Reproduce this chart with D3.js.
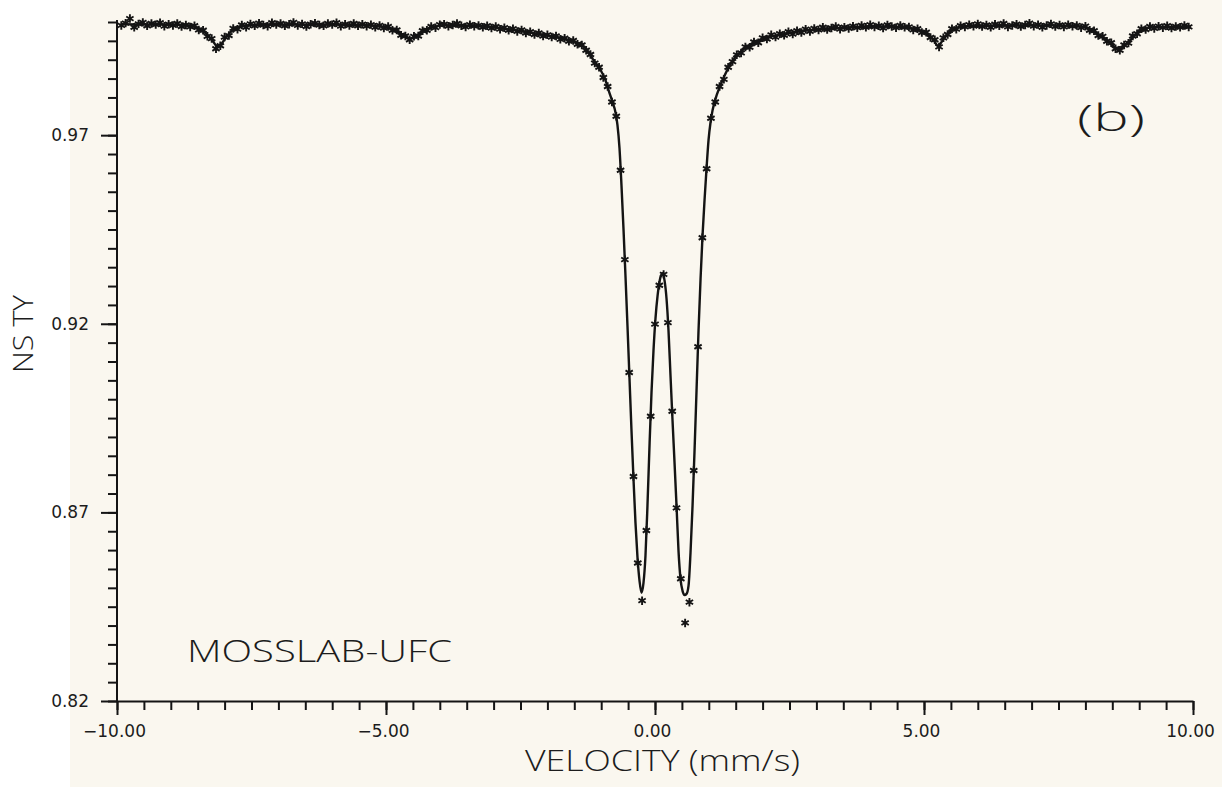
<!DOCTYPE html>
<html>
<head>
<meta charset="utf-8">
<script src="https://cdn.jsdelivr.net/npm/d3@7"></script>
<style>
  html, body { margin: 0; padding: 0; background: #ffffff; }
  svg { display: block; }
  text { font-family: "Open Sans", "DejaVu Sans", sans-serif; fill: #1c1c1c; }
</style>
</head>
<body>
<svg id="chart" width="1222" height="787"></svg>
<script>
// Mössbauer spectrum: relative transmission vs source velocity

// channel velocity calibration (mm/s)
const V_START = -9.92;
const V_STEP = 0.08;

// measured relative transmission, one value per channel
const transmission = [
  0.9991, 0.9997, 1.0009, 0.9986, 0.9995, 0.9999, 0.9990, 0.9996, 0.9993, 0.9998,
  0.9989, 0.9994, 0.9991, 0.9996, 0.9988, 0.9992, 0.9987, 0.9990, 0.9979, 0.9978,
  0.9962, 0.9956, 0.9929, 0.9937, 0.9960, 0.9964, 0.9983, 0.9981, 0.9992, 0.9986,
  0.9995, 0.9990, 0.9997, 0.9992, 0.9989, 0.9998, 0.9993, 0.9996, 0.9990, 0.9994,
  0.9999, 0.9991, 0.9995, 0.9988, 0.9994, 0.9997, 0.9992, 0.9990, 0.9996, 0.9993,
  0.9998, 0.9989, 0.9994, 0.9991, 0.9996, 0.9990, 0.9994, 0.9989, 0.9993, 0.9986,
  0.9991, 0.9984, 0.9988, 0.9978, 0.9979, 0.9965, 0.9963, 0.9953, 0.9962, 0.9963,
  0.9977, 0.9978, 0.9988, 0.9985, 0.9993, 0.9994, 0.9989, 0.9992, 0.9996, 0.9990,
  0.9987, 0.9993, 0.9989, 0.9991, 0.9986, 0.9990, 0.9984, 0.9988, 0.9981, 0.9985,
  0.9978, 0.9982, 0.9975, 0.9979, 0.9971, 0.9974, 0.9967, 0.9971, 0.9963, 0.9966,
  0.9960, 0.9963, 0.9954, 0.9957, 0.9949, 0.9951, 0.9941, 0.9939, 0.9925, 0.9914,
  0.9891, 0.9880, 0.9853, 0.9829, 0.9788, 0.9750, 0.9607, 0.9370, 0.9071, 0.8795,
  0.8566, 0.8466, 0.8652, 0.8955, 0.9199, 0.9302, 0.9331, 0.9203, 0.8968, 0.8712,
  0.8524, 0.8407, 0.8462, 0.8811, 0.9139, 0.9428, 0.9611, 0.9745, 0.9788, 0.9829,
  0.9848, 0.9880, 0.9895, 0.9913, 0.9918, 0.9934, 0.9933, 0.9947, 0.9945, 0.9958,
  0.9955, 0.9966, 0.9960, 0.9969, 0.9965, 0.9974, 0.9968, 0.9977, 0.9972, 0.9981,
  0.9975, 0.9983, 0.9979, 0.9986, 0.9980, 0.9984, 0.9988, 0.9981, 0.9986, 0.9983,
  0.9989, 0.9985, 0.9991, 0.9986, 0.9993, 0.9987, 0.9990, 0.9984, 0.9992, 0.9988,
  0.9985, 0.9991, 0.9986, 0.9987, 0.9979, 0.9982, 0.9972, 0.9973, 0.9959, 0.9953,
  0.9934, 0.9958, 0.9967, 0.9982, 0.9981, 0.9990, 0.9987, 0.9993, 0.9989, 0.9995,
  0.9988, 0.9992, 0.9986, 0.9994, 0.9990, 0.9996, 0.9987, 0.9991, 0.9994, 0.9988,
  0.9992, 0.9997, 0.9989, 0.9993, 0.9986, 0.9991, 0.9995, 0.9988, 0.9992, 0.9987,
  0.9993, 0.9989, 0.9991, 0.9985, 0.9989, 0.9978, 0.9977, 0.9964, 0.9962, 0.9949,
  0.9945, 0.9929, 0.9925, 0.9939, 0.9944, 0.9963, 0.9969, 0.9982, 0.9980, 0.9988,
  0.9983, 0.9989, 0.9985, 0.9990, 0.9984, 0.9988, 0.9986, 0.9991, 0.9987
];

// fitted envelope (velocity, transmission)
const fitVelocity = [
  -9.92, -9.00, -8.70, -8.56, -8.45, -8.32, -8.22, -8.14, -8.06, -7.98,
  -7.86, -7.70, -7.50, -7.00, -6.00, -5.50, -5.20, -5.00, -4.88, -4.72,
  -4.55, -4.44, -4.30, -4.12, -3.90, -3.40, -3.00, -2.70, -2.40, -2.13,
  -1.758, -1.60, -1.479, -1.293, -1.144, -1.014, -0.921, -0.865, -0.791, -0.735,
  -0.698, -0.660, -0.623, -0.586, -0.549, -0.512, -0.474, -0.437, -0.400, -0.363,
  -0.326, -0.288, -0.251, -0.214, -0.177, -0.140, -0.102, -0.065, -0.028, 0.009,
  0.047, 0.084, 0.121, 0.140, 0.177, 0.214, 0.251, 0.288, 0.326, 0.363,
  0.400, 0.437, 0.474, 0.512, 0.549, 0.586, 0.623, 0.660, 0.698, 0.735,
  0.772, 0.809, 0.847, 0.884, 0.921, 0.958, 0.995, 1.033, 1.070, 1.163,
  1.256, 1.405, 1.591, 1.777, 2.093, 2.400, 2.707, 3.200, 3.700, 4.200,
  4.600, 4.800, 4.990, 5.100, 5.180, 5.260, 5.360, 5.470, 5.630, 5.900,
  6.200, 7.400, 7.800, 7.970, 8.150, 8.290, 8.440, 8.530, 8.620, 8.710,
  8.800, 8.980, 9.100, 9.270, 9.960
];
const fitTransmission = [
  0.9994, 0.9993, 0.9991, 0.9988, 0.9981, 0.9966, 0.9950, 0.9936, 0.9942, 0.9958,
  0.9977, 0.9988, 0.9992, 0.9993, 0.9993, 0.9992, 0.9990, 0.9986, 0.9981, 0.9969,
  0.9956, 0.9962, 0.9976, 0.9987, 0.9991, 0.9990, 0.9986, 0.9980, 0.9974, 0.9967,
  0.9958, 0.9952, 0.9947, 0.9931, 0.9899, 0.9873, 0.9846, 0.9820, 0.9788, 0.9761,
  0.9727, 0.9666, 0.9567, 0.9453, 0.9328, 0.9196, 0.9055, 0.8917, 0.8789, 0.8673,
  0.8582, 0.8519, 0.8487, 0.8513, 0.8585, 0.8718, 0.8877, 0.9018, 0.9129, 0.9214,
  0.9273, 0.9312, 0.9331, 0.9334, 0.9315, 0.9267, 0.9182, 0.9063, 0.8943, 0.8832,
  0.8718, 0.8598, 0.8524, 0.8492, 0.8481, 0.8484, 0.8505, 0.8593, 0.8718, 0.8864,
  0.9023, 0.9182, 0.9320, 0.9435, 0.9528, 0.9612, 0.9687, 0.9735, 0.9766, 0.9813,
  0.9846, 0.9889, 0.9921, 0.9940, 0.9959, 0.9968, 0.9976, 0.9982, 0.9986, 0.9988,
  0.9986, 0.9982, 0.9973, 0.9964, 0.9952, 0.9937, 0.9954, 0.9974, 0.9985, 0.9989,
  0.9990, 0.9991, 0.9989, 0.9987, 0.9976, 0.9962, 0.9946, 0.9935, 0.9928, 0.9935,
  0.9947, 0.9972, 0.9982, 0.9986, 0.9986
];

// axis ticks and labels
const xMajorTicks = [-10, -5, 0, 5, 10];
const xTickLabels = ["\u221210.00", "\u22125.00", "0.00", "5.00", "10.00"];
const yMajorTicks = [0.82, 0.87, 0.92, 0.97];
const yTickLabels = ["0.82", "0.87", "0.92", "0.97"];
const xTitle = "VELOCITY (mm/s)";
const yTitle = "NS TY";
const panelTag = "(b)";
const labTag = "MOSSLAB-UFC";

const svg = d3.select("#chart");
const W = 1222, H = 787;
const labelFont = '"DejaVu Sans","Open Sans",sans-serif';

// paper
svg.append("rect").attr("width", W).attr("height", H).attr("fill", "#ffffff");
svg.append("rect").attr("x", 70).attr("y", 0).attr("width", W - 70).attr("height", H)
  .attr("fill", "#faf7ef");

const x = d3.scaleLinear().domain([-10, 10]).range([117, 1193]);
const y = d3.scaleLinear().domain([0.82, 1.00]).range([701, 22]);

const ink = "#141414";

function styleAxis(g) {
  g.selectAll("path.domain").attr("stroke", ink).attr("stroke-width", 2);
  g.selectAll(".tick line").attr("stroke", ink).attr("stroke-width", 2);
  g.selectAll(".tick text").attr("fill", "#1c1c1c")
    .style("font-family", labelFont).style("font-size", "17px");
}

// y axis: minor ticks every 0.005, major every 0.05
const yMinor = d3.range(0, 37).map(k => +(0.82 + k * 0.005).toFixed(3));
const gyMinor = svg.append("g").attr("transform", `translate(${x(-10)},0)`)
  .call(d3.axisLeft(y).tickValues(yMinor).tickSize(9).tickSizeOuter(0).tickFormat(""));
gyMinor.select("path.domain").attr("d", `M0,20V${y(0.82)}`);
styleAxis(gyMinor);

const gyMajor = svg.append("g").attr("transform", `translate(${x(-10)},0)`)
  .call(d3.axisLeft(y).tickValues(yMajorTicks).tickSize(16).tickPadding(12)
    .tickFormat((d, i) => yTickLabels[i]));
gyMajor.select("path.domain").remove();
styleAxis(gyMajor);

// x axis: minor ticks every 0.5, major every 5
const xMinor = d3.range(0, 41).map(k => -10 + k * 0.5);
const gxMinor = svg.append("g").attr("transform", `translate(0,${y(0.82)})`)
  .call(d3.axisBottom(x).tickValues(xMinor).tickSize(9).tickSizeOuter(0).tickFormat(""));
styleAxis(gxMinor);

const gxMajor = svg.append("g").attr("transform", `translate(0,${y(0.82)})`)
  .call(d3.axisBottom(x).tickValues(xMajorTicks).tickSize(14).tickPadding(10)
    .tickFormat((d, i) => xTickLabels[i]));
gxMajor.select("path.domain").remove();
styleAxis(gxMajor);
gxMajor.selectAll(".tick text").attr("dx", -3);

// fitted envelope
const fitPoints = fitVelocity.map((v, i) => [v, fitTransmission[i]]);
svg.append("path")
  .datum(fitPoints)
  .attr("fill", "none")
  .attr("stroke", ink)
  .attr("stroke-width", 2.4)
  .attr("stroke-linejoin", "round")
  .attr("d", d3.line().x(d => x(d[0])).y(d => y(d[1])).curve(d3.curveMonotoneX));

// measured channels
const symType = d3.symbolAsterisk || d3.symbolCross;
const marker = d3.symbol().type(symType).size(50);
const channels = transmission.map((t, i) => ({ v: V_START + i * V_STEP, t }));
svg.append("g").selectAll("path")
  .data(channels)
  .join("path")
  .attr("transform", d => `translate(${x(d.v)},${y(d.t)})`)
  .attr("d", marker)
  .attr("fill", "none")
  .attr("stroke", ink)
  .attr("stroke-width", 1.9);

// titles and tags
svg.append("text")
  .attr("x", 525).attr("y", 771)
  .attr("font-size", 29).attr("font-weight", 300)
  .attr("textLength", 275).attr("lengthAdjust", "spacingAndGlyphs")
  .text(xTitle);

svg.append("text")
  .attr("transform", "translate(33,373) rotate(-90)")
  .attr("font-size", 27).attr("font-weight", 300)
  .attr("textLength", 78).attr("lengthAdjust", "spacingAndGlyphs")
  .text(yTitle);

svg.append("text")
  .attr("x", 1077).attr("y", 131)
  .attr("font-size", 36).attr("font-weight", 300)
  .attr("textLength", 68).attr("lengthAdjust", "spacingAndGlyphs")
  .text(panelTag);

svg.append("text")
  .attr("x", 187).attr("y", 662)
  .attr("font-size", 32).attr("font-weight", 300)
  .attr("textLength", 265).attr("lengthAdjust", "spacingAndGlyphs")
  .text(labTag);
</script>
</body>
</html>
